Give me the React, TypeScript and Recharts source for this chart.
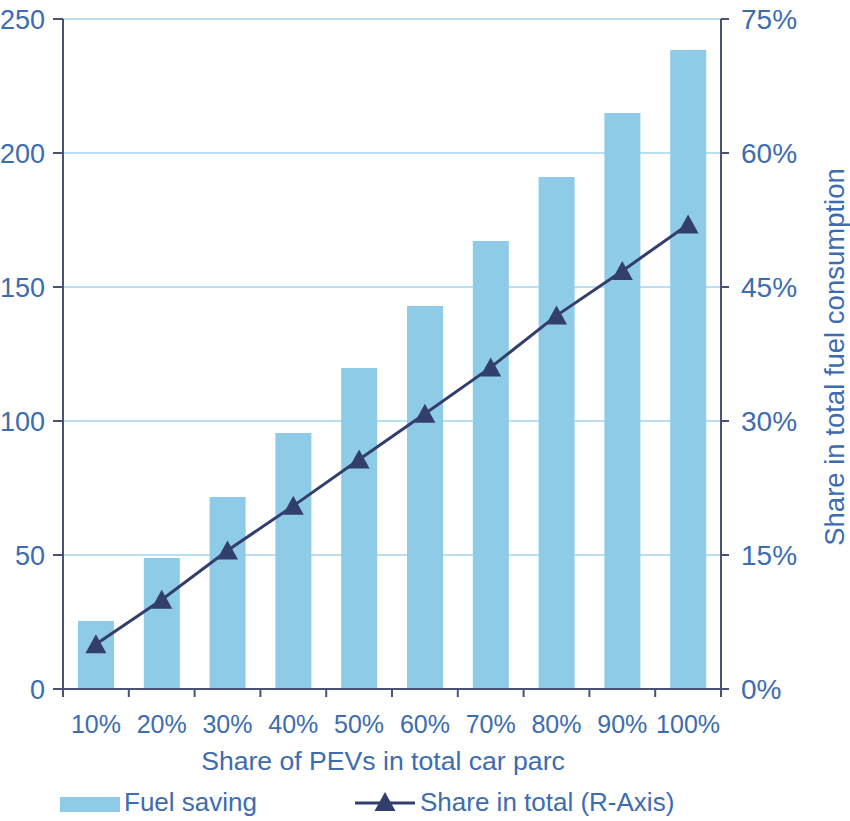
import React from "react";
import { Bar, CartesianGrid, ComposedChart, Label, Legend, Line, XAxis, YAxis } from "recharts";

const categories = ["10%", "20%", "30%", "40%", "50%", "60%", "70%", "80%", "90%", "100%"];
const fuelSaving = [25.4, 48.9, 71.6, 95.5, 119.8, 142.9, 167.2, 191, 214.9, 238.4];
const shareInTotal = [5, 10, 15.5, 20.5, 25.7, 30.8, 36, 41.8, 46.8, 52];
const leftTicks = [0, 50, 100, 150, 200, 250];
const rightTicks = [0, 15, 30, 45, 60, 75];

const data = categories.map((c, i) => ({ share: c, fuel: fuelSaving[i], total: shareInTotal[i] }));

const TEXT = "#3d6cb0";
const AXIS = "#4a5275";
const GRID = "#b8e0f1";
const BAR = "#8ecbe6";
const LINE = "#323e6c";
const FONT = "'Liberation Sans', Arial, sans-serif";

const PLOT_W = 658;
const BAND = PLOT_W / categories.length;
const X_TICK_MARGIN = 26;

function CategoryTick(props: any) {
  const { x, y, payload, index } = props;
  const axisY = y - X_TICK_MARGIN;
  return (
    <g>
      <line x1={x - BAND / 2} x2={x - BAND / 2} y1={axisY} y2={axisY + 8} stroke={AXIS} strokeWidth={2} />
      {index === categories.length - 1 && (
        <line x1={x + BAND / 2} x2={x + BAND / 2} y1={axisY} y2={axisY + 8} stroke={AXIS} strokeWidth={2} />
      )}
      <text x={x} y={y} dy="0.71em" textAnchor="middle" fill={TEXT} fontSize={25} fontFamily={FONT}>
        {payload.value}
      </text>
    </g>
  );
}

function Triangle(props: any) {
  const { cx, cy } = props;
  if (cx == null || cy == null) return null;
  return <polygon points={`${cx},${cy - 10} ${cx + 10.5},${cy + 9} ${cx - 10.5},${cy + 9}`} fill={LINE} />;
}

const legendX = [60, 355];

function LegendContent(props: any) {
  const items = props.payload || [];
  return (
    <svg width={850} height={36} style={{ display: "block" }}>
      {items.map((item: any, i: number) => {
        const x0 = legendX[i];
        if (item.type === "rect") {
          return (
            <g key={item.value}>
              <rect x={x0} y={12} width={60} height={15} fill={BAR} />
              <text x={x0 + 64} y={26} fill={TEXT} fontSize={26} fontFamily={FONT}>{item.value}</text>
            </g>
          );
        }
        return (
          <g key={item.value}>
            <line x1={x0} x2={x0 + 60} y1={18} y2={18} stroke={LINE} strokeWidth={3} />
            <Triangle cx={x0 + 30} cy={17} />
            <text x={x0 + 65} y={26} fill={TEXT} fontSize={26} fontFamily={FONT}>{item.value}</text>
          </g>
        );
      })}
    </svg>
  );
}

export default function App() {
  return (
    <div style={{ position: "absolute", left: 0, top: 0, fontFamily: FONT }}>
      <ComposedChart width={850} height={821} data={data} margin={{ top: 19, right: 0, bottom: 0, left: 0 }}>
        <CartesianGrid yAxisId="left" vertical={false} stroke={GRID} strokeWidth={2} />
        <XAxis
          dataKey="share"
          height={96}
          tickSize={0}
          tickLine={false}
          tickMargin={X_TICK_MARGIN}
          tick={<CategoryTick />}
          interval={0}
          axisLine={{ stroke: AXIS, strokeWidth: 2 }}
        >
          <Label
            content={(p: any) => {
              const vb = p.viewBox;
              return (
                <text x={vb.x + vb.width / 2 - 9} y={vb.y + 81} textAnchor="middle" fill={TEXT} fontSize={26.6} fontFamily={FONT}>
                  Share of PEVs in total car parc
                </text>
              );
            }}
          />
        </XAxis>
        <YAxis
          yAxisId="left"
          width={63}
          domain={[0, 250]}
          ticks={leftTicks}
          interval={0}
          tickSize={10}
          tickMargin={8}
          tick={{ fill: TEXT, fontSize: 27, fontFamily: FONT }}
          tickLine={{ stroke: AXIS, strokeWidth: 2 }}
          axisLine={{ stroke: AXIS, strokeWidth: 2 }}
        />
        <YAxis
          yAxisId="right"
          orientation="right"
          width={129}
          domain={[0, 75]}
          ticks={rightTicks}
          interval={0}
          tickFormatter={(v: number) => `${v}%`}
          tickSize={8}
          tickMargin={12}
          tick={{ fill: TEXT, fontSize: 28, fontFamily: FONT, textAnchor: "start" }}
          tickLine={{ stroke: AXIS, strokeWidth: 2 }}
          axisLine={{ stroke: AXIS, strokeWidth: 2 }}
        >
          <Label
            content={(p: any) => {
              const vb = p.viewBox;
              const cx = vb.x + 123;
              const cy = vb.y + vb.height / 2 + 3;
              return (
                <text transform={`translate(${cx},${cy}) rotate(-90)`} textAnchor="middle" fill={TEXT} fontSize={27.5} fontFamily={FONT}>
                  Share in total fuel consumption
                </text>
              );
            }}
          />
        </YAxis>
        <Legend verticalAlign="bottom" content={<LegendContent />} />
        <Bar yAxisId="left" dataKey="fuel" name="Fuel saving" fill={BAR} barSize={36} isAnimationActive={false} />
        <Line
          yAxisId="right"
          dataKey="total"
          name="Share in total (R-Axis)"
          type="linear"
          stroke={LINE}
          strokeWidth={3}
          dot={(p: any) => <Triangle key={`dot-${p.index}`} cx={p.cx} cy={p.cy} />}
          activeDot={false}
          isAnimationActive={false}
        />
      </ComposedChart>
    </div>
  );
}
